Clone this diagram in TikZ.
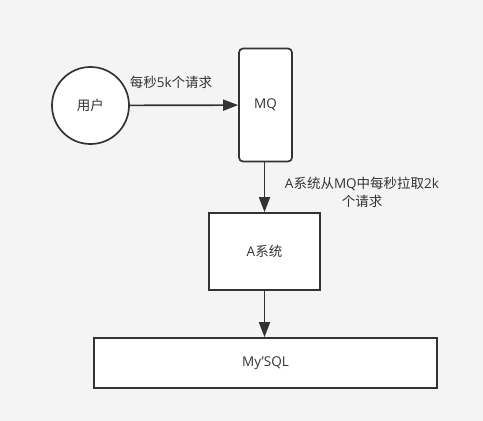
\documentclass[tikz,border=0pt]{standalone}
\usepackage{fontspec}
\setmainfont{Open Sans}
\newfontfamily\cjk{Noto Sans CJK SC}
\usetikzlibrary{arrows.meta}
\definecolor{bg}{HTML}{F4F4F4}
\definecolor{ln}{HTML}{333333}
\begin{document}
\begin{tikzpicture}[x=1pt,y=-1pt,
  box/.style={draw=ln,line width=1.7pt,fill=white,inner sep=0pt,text=ln,font=\fontsize{13.5}{16}\selectfont},
  conn/.style={draw=ln,line width=1.7pt,-{Triangle[length=15pt,width=11pt]}},
  lbl/.style={text=ln,font=\fontsize{13.5}{18}\selectfont,inner sep=0pt,align=center}]
\fill[bg] (0,0) rectangle (483,421);
\useasboundingbox (0,0) rectangle (483,421);
\node[box,circle,minimum size=77pt] (user) at (90.5,105.5) {\cjk 用户};
\node[box,rounded corners=4pt,minimum width=53pt,minimum height=113pt] (mq) at (265.5,105) {MQ};
\node[box,minimum width=111pt,minimum height=77pt] (a) at (264.5,251.5) {A{\cjk 系统}};
\node[box,minimum width=343pt,minimum height=50pt] (db) at (265.5,363) {My\char"27 SQL};
\draw[conn] (user) -- (mq);
\draw[conn] (mq.south -| a.north) -- (a.north);
\draw[conn] (a) -- (a.south |- db.north);
\node[lbl] (l1) at (171,82) {{\cjk 每秒}5k{\cjk 个请求}};
\node[lbl] (l2) at (362,192) {A{\cjk 系统从}MQ{\cjk 中每秒拉取}2k\\{\cjk 个请求}};
\end{tikzpicture}
\end{document}
